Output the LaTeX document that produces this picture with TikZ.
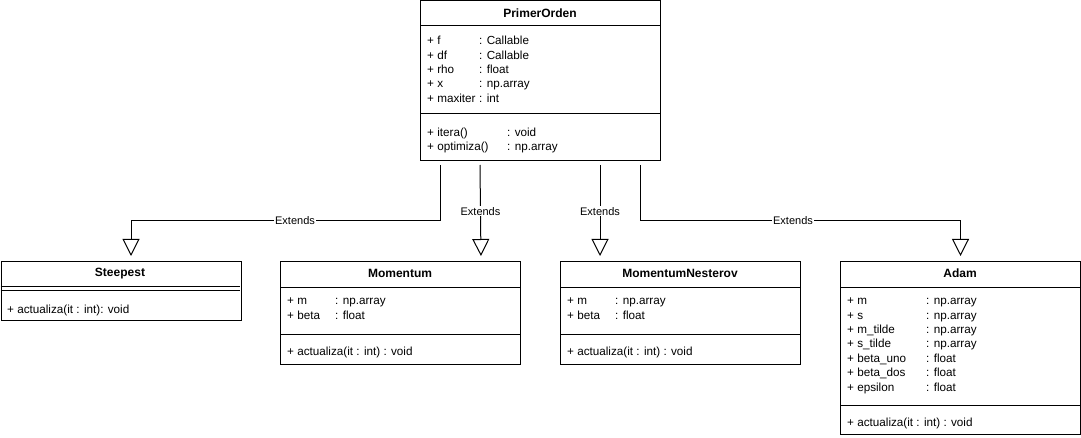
\documentclass[tikz,border=0pt]{standalone}
\usepackage{fontspec}
\setmainfont{Liberation Sans}
\usetikzlibrary{positioning,arrows.meta}
\tikzset{
  classBox/.style={rectangle, draw, line width=1pt, anchor=north west, inner sep=0pt, minimum width=240pt},
  className/.style={font=\fontsize{12}{14.4}\selectfont\bfseries, inner sep=0pt},
  members/.style={anchor=north west, inner sep=0pt, font=\fontsize{11.7}{14.4}\selectfont},
  sepLine/.style={line width=1pt},
  extends/.style={line width=1pt, -{Triangle[open, length=17pt, width=17pt, line width=1pt]}, shorten >=5pt},
  extLabel/.style={fill=white, inner sep=1pt, font=\fontsize{11}{13}\selectfont}
}

\begin{document}
\begin{tikzpicture}[x=1pt, y=-1pt]
      \useasboundingbox (0,0) rectangle (1081,438);

      % PrimerOrden
      \node[classBox, minimum height=159.5pt] (primer) at (420,0.5) {};
      \node[className] (primerName) at (540,13.5) {PrimerOrden};
      \draw[sepLine] (420,26) -- (660,26);
      \node[members] (primerAttrs) at (427,34.5) {\begin{tabular}{@{}p{52pt}@{}l@{}}
        + f & : Callable\\ + df & : Callable\\ + rho & : float\\ + x & : np.array\\ + maxiter & : int
      \end{tabular}};
      \draw[sepLine] (420,114) -- (660,114);
      \node[members] (primerOps) at (427,126) {\begin{tabular}{@{}p{80pt}@{}l@{}}
        + itera() & : void\\ + optimiza() & : np.array
      \end{tabular}};

      % Steepest
      \node[classBox, minimum height=59pt] (steepest) at (0.5,261) {};
      \node[className] (steepestName) at (120,273.5) {Steepest};
      \draw[sepLine] (0.5,286) -- (240,286);
      \draw[sepLine] (0.5,290) -- (240,290);
      \node[members] (steepestOps) at (7,305) {+ actualiza(it : int): void};

      % Momentum
      \node[classBox, minimum height=103pt] (momentum) at (280,261) {};
      \node[className] (momentumName) at (400,273.5) {Momentum};
      \draw[sepLine] (280,287) -- (520,287);
      \node[members] (momentumAttrs) at (287,294.5) {\begin{tabular}{@{}p{48pt}@{}l@{}}
        + m & : np.array\\ + beta & : float
      \end{tabular}};
      \draw[sepLine] (280,334) -- (520,334);
      \node[members] (momentumOps) at (287,347) {+ actualiza(it : int) : void};

      % MomentumNesterov
      \node[classBox, minimum height=103pt] (nesterov) at (560,261) {};
      \node[className] (nesterovName) at (680,273.5) {MomentumNesterov};
      \draw[sepLine] (560,287) -- (800,287);
      \node[members] (nesterovAttrs) at (567,294.5) {\begin{tabular}{@{}p{48pt}@{}l@{}}
        + m & : np.array\\ + beta & : float
      \end{tabular}};
      \draw[sepLine] (560,334) -- (800,334);
      \node[members] (nesterovOps) at (567,347) {+ actualiza(it : int) : void};

      % Adam
      \node[classBox, minimum height=173pt] (adam) at (840,261) {};
      \node[className] (adamName) at (960,273.5) {Adam};
      \draw[sepLine] (840,287) -- (1080,287);
      \node[members] (adamAttrs) at (847,294.5) {\begin{tabular}{@{}p{79pt}@{}l@{}}
        + m & : np.array\\ + s & : np.array\\ + m\_tilde & : np.array\\ + s\_tilde & : np.array\\
        + beta\_uno & : float\\ + beta\_dos & : float\\ + epsilon & : float
      \end{tabular}};
      \draw[sepLine] (840,405) -- (1080,405);
      \node[members] (adamOps) at (847,418) {+ actualiza(it : int) : void};

      % Extends
      \coordinate (outSteepest) at (440,165);
      \coordinate (outMomentum) at (480,165);
      \coordinate (outNesterov) at (600,165);
      \coordinate (outAdam) at (640,165);
      \coordinate (bendSteepest) at (295,220.5);
      \coordinate (bendAdam) at (793,220.5);

      \draw[extends] (outSteepest) |- (bendSteepest) node[extLabel] {Extends} -| ([xshift=10pt]steepest.north);
      \draw[extends] (outMomentum) -- node[extLabel, pos=0.48] {Extends} ([xshift=-40pt]momentum.north east);
      \draw[extends] (outNesterov) -- node[extLabel, pos=0.48] {Extends} ([xshift=40pt]nesterov.north west);
      \draw[extends] (outAdam) |- (bendAdam) node[extLabel] {Extends} -| (adam.north);

    \end{tikzpicture}
\end{document}
